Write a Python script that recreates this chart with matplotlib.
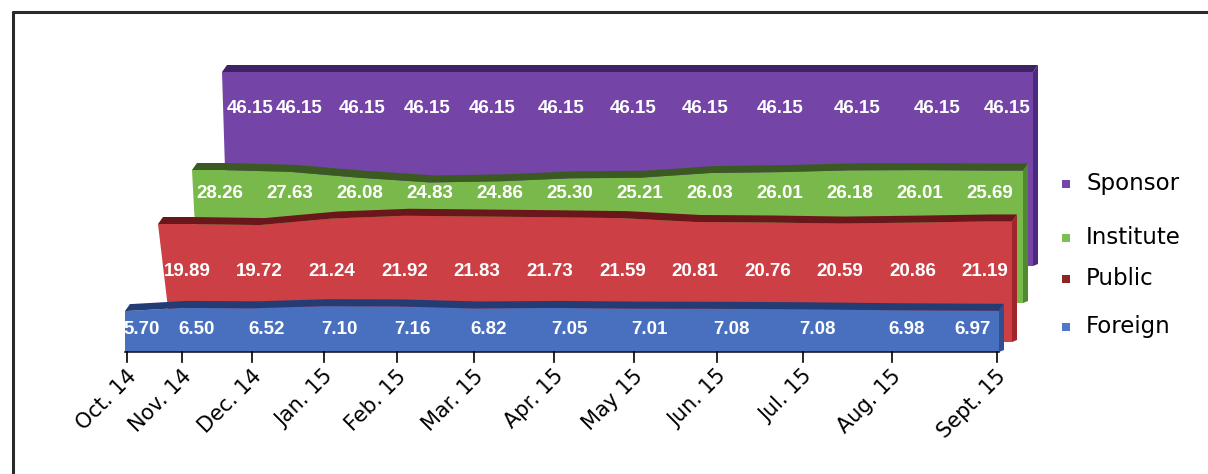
import numpy as np
import matplotlib
matplotlib.use("Agg")
import matplotlib.pyplot as plt

months = ["Oct. 14", "Nov. 14", "Dec. 14", "Jan. 15", "Feb. 15", "Mar. 15",
          "Apr. 15", "May 15", "Jun. 15", "Jul. 15", "Aug. 15", "Sept. 15"]

# monthly shares in percent (each month sums to 100)
sponsor = [46.15, 46.15, 46.15, 46.15, 46.15, 46.15,
           46.15, 46.15, 46.15, 46.15, 46.15, 46.15]
institute = [28.26, 27.63, 26.08, 24.83, 24.86, 25.30,
             25.21, 26.03, 26.01, 26.18, 26.01, 25.69]
public = [19.89, 19.72, 21.24, 21.92, 21.83, 21.73,
          21.59, 20.81, 20.76, 20.59, 20.86, 21.19]
foreign = [5.70, 6.50, 6.52, 7.10, 7.16, 6.82,
           7.05, 7.01, 7.08, 7.08, 6.98, 6.97]

# the canvas is laid out in pixels, y grows downwards
W, H = 1208, 474
month_pos = np.array([127, 182, 252, 324, 397, 474, 554, 634, 717, 803, 892, 997])
axis_y = 352
PX_PER_PCT = 4.5     # vertical scale of the ribbons
DX, DY = 5, 7        # depth of the top and side faces


def ribbon_x(kind, left, right):
    if kind == "axis":
        return month_pos.astype(float)
    if kind == "spread":
        return np.linspace(left, right, 12)
    # squeezed copy of the time axis for the back row
    xs = left + (month_pos - month_pos[0]) * 0.898
    return np.minimum(xs, right)


# back row first, front row last
rows = [
    dict(name="Sponsor", vals=sponsor, face="#7444a7", top="#3d2363", side="#4c2a80",
         key="#7446aa", left=(222, 228), right=1033, floor=266, y0=72, tilt=0.0,
         xs=("squeeze", 250, 1007), label_y=108),
    dict(name="Institute", vals=institute, face="#79b94b", top="#3b5a22", side="#4f8a2f",
         key="#78be50", left=(192, 199), right=1023, floor=303, y0=170, tilt=1.0,
         xs=("spread", 220, 990), label_y=194),
    dict(name="Public", vals=public, face="#cc3f45", top="#6a171b", side="#a0262c",
         key="#8c2525", left=(158, 172), right=1012, floor=342, y0=224, tilt=-0.3,
         xs=("spread", 187, 985), label_y=272),
    dict(name="Foreign", vals=foreign, face="#4870bf", top="#233c73", side="#2f4f8f",
         key="#4b78c8", left=(125, 125), right=999, floor=axis_y, y0=311, tilt=-0.5,
         xs=("axis", 0, 0), label_y=329),
]

fig = plt.figure(figsize=(W / 100, H / 100), dpi=100)
ax = fig.add_axes([0, 0, 1, 1])
ax.set_xlim(0, W)
ax.set_ylim(H, 0)
ax.axis("off")

for r in rows:
    v = np.array(r["vals"])
    idx = np.arange(len(v))
    xs = ribbon_x(*r["xs"])
    ytop = r["y0"] + PX_PER_PCT * (v[0] - v) - r["tilt"] * idx

    # front edge of the ribbon, carried out to both ends
    ex = np.concatenate([[r["left"][0]], xs, [r["right"]]])
    ey = np.concatenate([[ytop[0]], ytop, [ytop[-1]]])

    front_x = np.concatenate([ex, [r["right"], r["left"][1]]])
    front_y = np.concatenate([ey, [r["floor"], r["floor"]]])
    ax.fill(front_x, front_y, color=r["face"], lw=0, zorder=2)

    top_x = np.concatenate([ex, (ex + DX)[::-1]])
    top_y = np.concatenate([ey, (ey - DY)[::-1]])
    ax.fill(top_x, top_y, color=r["top"], lw=0, zorder=2)

    rx = r["right"]
    ax.fill([rx, rx + DX, rx + DX, rx], [ey[-1], ey[-1] - DY, r["floor"] - 2, r["floor"]],
            color=r["side"], lw=0, zorder=2)

    if r["name"] == "Foreign":
        lx = np.minimum(month_pos + 15, r["right"] - 26)
    else:
        lx = xs
    for x, val in zip(lx, v):
        ax.text(x, r["label_y"], f"{val:.2f}", color="white", fontsize=13.5,
                family="Liberation Sans", weight="bold", ha="center", va="center", zorder=3)

# time axis along the front row
ax.plot([month_pos[0] - 2, month_pos[-1] + 2], [axis_y, axis_y], color="#1a1a2a", lw=1.2, zorder=3)
for x, lab in zip(month_pos, months):
    ax.plot([x, x], [axis_y, axis_y + 10], color="black", lw=1.2, zorder=3)
    ax.text(x - 1, axis_y + 14, lab, rotation=45, rotation_mode="anchor",
            ha="right", va="top", fontsize=15, color="black", zorder=3)

# legend, top to bottom
legend_base = [190, 244, 285, 333]
for r, yb in zip(rows, legend_base):
    ax.scatter([1066], [yb - 6], marker="s", s=40, color=r["key"], lw=0, zorder=3)
    ax.text(1086, yb, r["name"], fontsize=16.5, color="black",
            ha="left", va="baseline", zorder=3)

# frame
ax.plot([12, W], [11.5, 11.5], color="#2a2a2a", lw=2.2, solid_capstyle="butt", zorder=4)
ax.plot([12.5, 12.5], [10.5, H], color="#2a2a2a", lw=2.2, solid_capstyle="butt", zorder=4)

fig.savefig("out.png", dpi=100)
